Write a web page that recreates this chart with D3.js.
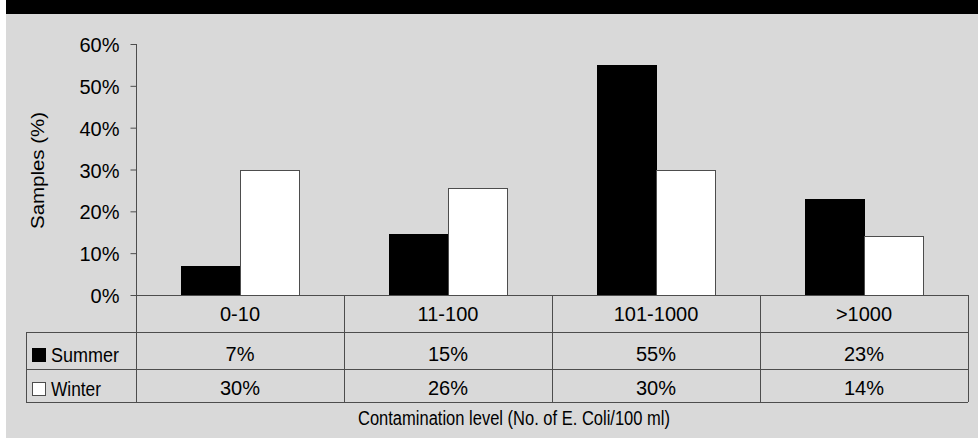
<!DOCTYPE html>
<html>
<head>
<meta charset="utf-8">
<script src="https://cdn.jsdelivr.net/npm/d3@7"></script>
<style>
  html, body { margin: 0; padding: 0; background: #ffffff; }
  svg { display: block; }
  text { font-family: "Liberation Sans", Arial, sans-serif; fill: #000; }
</style>
</head>
<body>
<svg id="chart" width="978" height="438"></svg>
<script>
// ---- data ----
const categories = ["0-10", "11-100", "101-1000", ">1000"];
const seriesNames = ["Summer", "Winter"];
const summerValues = [7, 14.6, 55, 23];
const winterValues = [30, 25.5, 30, 14];
const yTicks = [0, 10, 20, 30, 40, 50, 60];
const yLabel = "Samples (%)";
const xLabel = "Contamination level (No. of E. Coli/100 ml)";

const seriesValues = [summerValues, winterValues];
const seriesFill = ["#000000", "#ffffff"];
const seriesStroke = ["#000000", "#4d4d4d"];

const svg = d3.select("#chart");
const W = 978, H = 438;
const lineColor = "#4d4d4d";

// frame
svg.append("rect").attr("x", 6).attr("y", 0).attr("width", W - 6).attr("height", H).attr("fill", "#d9d9d9");
svg.append("rect").attr("x", 6).attr("y", 0).attr("width", W - 6).attr("height", 14).attr("fill", "#000");

// scales
const plotLeft = 136, plotRight = 968, baseY = 295, topY = 44;
const x0 = d3.scaleBand().domain(categories).range([plotLeft, plotRight]).paddingInner(0).paddingOuter(0);
const x1 = d3.scaleBand().domain(seriesNames).range([0, x0.bandwidth()]).paddingInner(0).paddingOuter(0.7627);
const y = d3.scaleLinear().domain([0, 60]).range([baseY, topY]);

// bars
const g = svg.append("g");
categories.forEach((c, i) => {
  seriesNames.forEach((s, j) => {
    const v = seriesValues[j][i];
    g.append("rect")
      .attr("x", Math.round(x0(c) + x1(s)) + 0.5)
      .attr("y", Math.round(y(v)) + 0.5)
      .attr("width", Math.round(x1.bandwidth()))
      .attr("height", Math.round(y(0)) - Math.round(y(v)))
      .attr("fill", seriesFill[j])
      .attr("stroke", seriesStroke[j])
      .attr("stroke-width", 1);
  });
});

// y axis
const yAxis = d3.axisLeft(y).tickValues(yTicks).tickFormat(d => d + "%").tickSize(6).tickPadding(11);
const ax = svg.append("g").attr("transform", `translate(${plotLeft + 0.5},0)`).call(yAxis);
ax.select(".domain").remove();
ax.selectAll(".tick line").attr("stroke", lineColor);
ax.selectAll(".tick text")
  .attr("font-family", "Liberation Sans, Arial, sans-serif")
  .attr("font-size", "20px").attr("fill", "#000")
  .attr("dy", "0.38em");

// table lines
const rowTop = [295, 332, 368.5, 402];
const legendLeft = 26;
const lines = svg.append("g").attr("stroke", lineColor).attr("stroke-width", 1).attr("shape-rendering", "crispEdges");
lines.append("line").attr("x1", plotLeft + 0.5).attr("x2", plotLeft + 0.5).attr("y1", y(60)).attr("y2", rowTop[3]);
lines.append("line").attr("x1", plotLeft).attr("x2", plotRight).attr("y1", baseY + 0.5).attr("y2", baseY + 0.5);
[rowTop[1], rowTop[2], rowTop[3]].forEach(ry => {
  lines.append("line").attr("x1", legendLeft).attr("x2", plotRight).attr("y1", Math.round(ry) + 0.5).attr("y2", Math.round(ry) + 0.5);
});
lines.append("line").attr("x1", legendLeft + 0.5).attr("x2", legendLeft + 0.5).attr("y1", rowTop[1]).attr("y2", rowTop[3]);
categories.forEach(c => {
  const xr = x0(c) + x0.bandwidth();
  lines.append("line").attr("x1", Math.round(xr) + 0.5).attr("x2", Math.round(xr) + 0.5).attr("y1", baseY).attr("y2", rowTop[3]);
});

// table text
const tt = svg.append("g").attr("font-size", "20px").attr("text-anchor", "middle");
categories.forEach((c, i) => {
  const cx = x0(c) + x0.bandwidth() / 2;
  tt.append("text").attr("x", cx).attr("y", 321).text(c);
  tt.append("text").attr("x", cx).attr("y", 360.5).text(Math.round(summerValues[i]) + "%");
  tt.append("text").attr("x", cx).attr("y", 394.5).text(Math.round(winterValues[i]) + "%");
});

// legend
const legY = [348, 382];
const legTextY = [362, 396];
const legLen = [68, 50];
seriesNames.forEach((s, j) => {
  svg.append("rect").attr("x", 32.5).attr("y", legY[j] + 0.5).attr("width", 13).attr("height", 13)
    .attr("fill", seriesFill[j]).attr("stroke", seriesStroke[j]);
  svg.append("text").attr("x", 51).attr("y", legTextY[j]).attr("font-size", "21px")
    .attr("textLength", legLen[j]).attr("lengthAdjust", "spacingAndGlyphs").text(s);
});

// axis titles
svg.append("text").attr("x", 358).attr("y", 425).attr("font-size", "20px")
  .attr("textLength", 312).attr("lengthAdjust", "spacingAndGlyphs").text(xLabel);
svg.append("text").attr("transform", "translate(44,170.5) rotate(-90)")
  .attr("text-anchor", "middle").attr("font-size", "19px")
  .attr("textLength", 117).attr("lengthAdjust", "spacingAndGlyphs").text(yLabel);
</script>
</body>
</html>
